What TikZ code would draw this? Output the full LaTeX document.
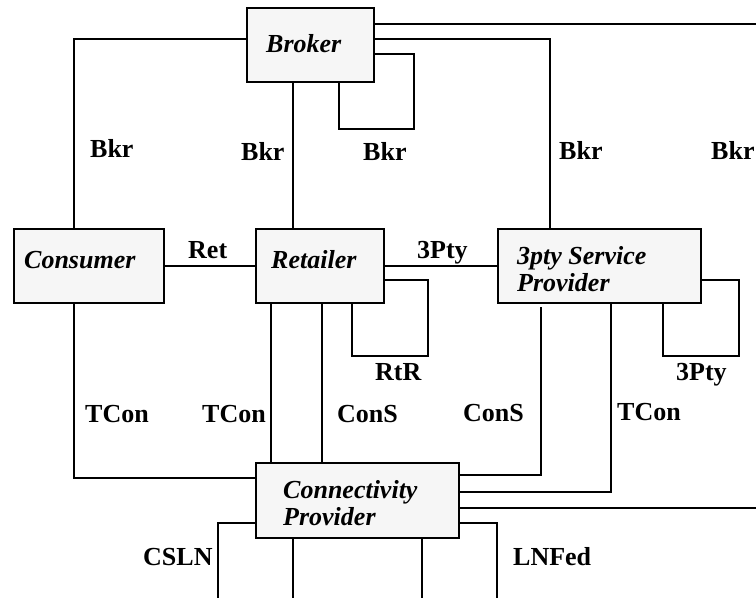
\documentclass[tikz,border=0pt]{standalone}
\usepackage{fontspec}
\setmainfont{Liberation Serif}
\begin{document}
\begin{tikzpicture}[x=1pt,y=-1pt,
  box/.style={draw=black,line width=2.6pt,fill=gray!7,anchor=north west,inner sep=0pt,outer sep=0pt},
  boxtext/.style={anchor=base west,inner sep=0pt,font=\fontsize{26}{27}\selectfont\bfseries\itshape},
  lbl/.style={anchor=base west,inner sep=0pt,font=\fontsize{26}{27}\selectfont\bfseries},
  conn/.style={draw=black,line width=1.3pt}]
\useasboundingbox (0,0) rectangle (756,598);
% boxes
\node[box,minimum width=127pt,minimum height=74pt] (broker) at (247,8) {};
\node[box,minimum width=150pt,minimum height=74pt] (consumer) at (14,229) {};
\node[box,minimum width=128pt,minimum height=74pt] (retailer) at (256,229) {};
\node[box,minimum width=203pt,minimum height=74pt] (tpty) at (498,229) {};
\node[box,minimum width=203pt,minimum height=75pt] (cp) at (256,463) {};
% box texts
\node[boxtext] (tb) at (266,52) {Broker};
\node[boxtext] (tc) at (24,268) {Consumer};
\node[boxtext] (tr) at (271,268) {Retailer};
\node[boxtext] (tt1) at (517,264) {3pty Service};
\node[boxtext] (tt2) at (517,291) {Provider};
\node[boxtext] (tp1) at (283,498) {Connectivity};
\node[boxtext] (tp2) at (283,525) {Provider};
% off-picture ends
\coordinate (e1) at (756,24);
\coordinate (e2) at (756,508);
\coordinate (e3) at (218,598);
\coordinate (e4) at (293,598);
\coordinate (e5) at (497,598);
\coordinate (e6) at (422,598);
% connectors
\begin{scope}[conn]
\draw (broker.west |- 0,39) -| (consumer.north -| 74,0);
\draw (broker.south -| 293,0) -- (retailer.north -| 293,0);
\draw (broker.south -| 339,0) |- (414,129) |- (broker.east |- 0,54);
\draw (broker.east |- 0,39) -| (tpty.north -| 550,0);
\draw (broker.east |- 0,24) -- (e1);
\draw (consumer.east |- 0,266) -- (retailer.west |- 0,266);
\draw (retailer.east |- 0,266) -- (tpty.west |- 0,266);
\draw (retailer.east |- 0,280) -| (428,356) -| (retailer.south -| 352,0);
\draw (tpty.east |- 0,280) -| (739,356) -| (tpty.south -| 663,0);
\draw (consumer.south -| 74,0) |- (cp.west |- 0,478);
\draw (retailer.south -| 271,0) -- (cp.north -| 271,0);
\draw (retailer.south -| 322,0) -- (cp.north -| 322,0);
\draw (541,307) |- (cp.east |- 0,475);
\draw (tpty.south -| 611,0) |- (cp.east |- 0,492);
\draw (cp.east |- 0,508) -- (e2);
\draw (cp.west |- 0,523) -| (e3);
\draw (cp.south -| 293,0) -- (e4);
\draw (cp.east |- 0,523) -| (e5);
\draw (cp.south -| 422,0) -- (e6);
\end{scope}
% labels
\node[lbl] (l1) at (90,157) {Bkr};
\node[lbl] (l2) at (241,160) {Bkr};
\node[lbl] (l3) at (363,160) {Bkr};
\node[lbl] (l4) at (559,159) {Bkr};
\node[lbl] (l5) at (711,159) {Bkr};
\node[lbl] (l6) at (188,258) {Ret};
\node[lbl] (l7) at (417,258) {3Pty};
\node[lbl] (l8) at (375,380) {RtR};
\node[lbl] (l9) at (676,380) {3Pty};
\node[lbl] (l10) at (85,422) {TCon};
\node[lbl] (l11) at (202,422) {TCon};
\node[lbl] (l12) at (337,422) {ConS};
\node[lbl] (l13) at (463,421) {ConS};
\node[lbl] (l14) at (617,420) {TCon};
\node[lbl] (l15) at (143,565) {CSLN};
\node[lbl] (l16) at (513,565) {LNFed};
\end{tikzpicture}
\end{document}
